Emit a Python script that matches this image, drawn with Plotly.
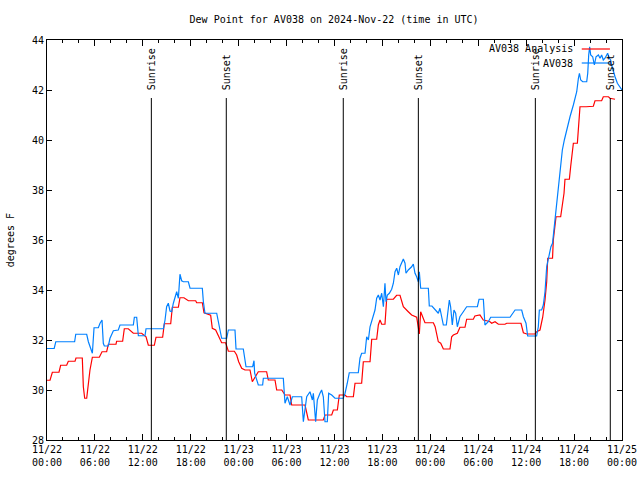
import pandas as pd
import plotly.graph_objects as go

# ---------------- data ----------------
base_time = "2024-11-22 00:00"

# AV038 Analysis (red) : hours since base_time, dew point (F)
analysis_hours = [0, 0.38, 0.67, 1.5, 1.71, 2.46, 2.67, 3.51, 3.63, 4.42, 4.55, 4.72, 4.97, 5.18, 5.38,
                  5.68, 6.55, 6.89, 7.47, 7.68, 8.64, 8.72, 9.47, 9.68, 10.18, 10.81, 11.85, 12.40, 12.69,
                  13.44, 13.65, 14.48, 14.69, 15.49, 15.69, 16.45, 16.65, 17.15, 17.70, 18.62, 18.74, 19.45,
                  19.66, 20.49, 20.70, 21.12, 21.45, 21.87, 22.37, 22.71, 23.46, 23.75, 24.0, 24.38, 24.79,
                  25.42, 25.71, 26.0, 26.46, 27.5, 27.71, 28.55, 28.76, 29.4, 29.8, 30.43, 30.64, 32.31,
                  32.5, 32.72, 34.6, 34.81, 35.65, 35.86, 36.36, 36.6, 37.32, 37.53, 38.36, 38.57, 39.4,
                  39.61, 40.45, 40.66, 41.28, 41.49, 41.7, 41.91, 42.32, 42.53, 43.37, 43.78, 44.2, 44.62,
                  45.24, 45.66, 46.29, 46.5, 46.62, 46.79, 47.12, 47.33, 48.38, 48.6, 49.0, 49.3, 49.63,
                  50.46, 50.67, 50.88, 51.38, 51.71, 52.34, 52.55, 53.38, 53.58, 54.21, 54.63, 55.05,
                  55.47, 55.68, 56.1, 56.52, 57.35, 57.56, 59.35, 59.65, 60.07, 61.11, 61.32, 61.73,
                  62.07, 62.36, 62.57, 62.7, 63.3, 63.4, 63.6, 63.74, 64.32, 64.53, 64.74, 64.86, 65.41,
                  65.57, 65.78, 65.91, 66.41, 66.62, 66.74, 67.5, 68.41, 68.62, 69.45, 69.66, 70.3, 70.5,
                  71.13]
analysis_dewpt = [30.39, 30.39, 30.71, 30.71, 30.99, 30.99, 31.15, 31.15, 31.28, 31.28, 30.13, 29.67, 29.67,
                  30.33, 30.8, 31.31, 31.31, 31.53, 31.53, 31.83, 31.83, 31.95, 31.95, 32.45, 32.45, 32.27,
                  32.27, 32.13, 31.79, 31.79, 32.11, 32.11, 32.65, 32.65, 33.31, 33.31, 33.69, 33.69, 33.57,
                  33.57, 33.49, 33.49, 33.09, 32.99, 32.47, 32.4, 32.16, 31.89, 31.89, 31.55, 31.55, 31.4,
                  31.13, 30.87, 30.8, 30.8, 30.33, 30.47, 30.73, 30.73, 30.4, 30.4, 30.0, 30.0, 29.8, 29.8,
                  29.4, 29.4, 29.07, 28.8, 28.8, 29.0, 29.0, 29.2, 29.2, 29.8, 29.8, 29.73, 29.73, 30.27,
                  30.27, 31.13, 31.13, 32.03, 32.03, 32.6, 32.8, 32.63, 32.63, 33.63, 33.63, 33.79, 33.79,
                  33.33, 33.13, 33.0, 32.91, 32.53, 32.24, 33.13, 32.87, 32.69, 32.69, 32.53, 31.93, 31.87,
                  31.64, 31.64, 32.13, 32.2, 32.27, 32.51, 32.51, 32.83, 32.83, 32.96, 33.0, 32.8, 32.77,
                  32.73, 32.67, 32.73, 32.63, 32.63, 32.67, 32.67, 32.29, 32.24, 32.24, 32.33, 32.4, 32.91,
                  33.6, 34.33, 35.27, 35.27, 36.0, 36.73, 36.93, 36.93, 37.47, 37.87, 38.43, 38.43, 38.93,
                  39.73, 39.87, 39.87, 40.67, 41.33, 41.33, 41.35, 41.57, 41.57, 41.73, 41.73, 41.67, 41.63]

# AV038 observations (blue)
obs_hours = [0.0, 0.9, 1.1, 3.46, 3.6, 4.97, 5.18, 5.38, 5.68, 5.89, 6.43, 6.64, 6.89, 7.05, 7.18, 7.68,
             7.89, 8.31, 8.93, 9.14, 10.81, 10.94, 11.23, 11.44, 12.27, 12.40, 14.57, 14.78, 14.98, 15.19,
             15.40, 15.61, 15.82, 16.24, 16.45, 16.65, 16.86, 17.07, 17.70, 17.91, 19.45, 19.58, 19.78,
             21.25, 21.45, 21.66, 21.87, 22.50, 22.71, 23.54, 23.67, 24.58, 24.92, 25.75, 25.92, 26.0,
             26.46, 27.0, 27.09, 29.59, 29.8, 30.09, 30.43, 30.72, 31.89, 32.1, 32.52, 32.93, 33.23,
             33.35, 33.64, 33.85, 34.18, 34.39, 34.6, 34.81, 35.1, 35.27, 35.65, 36.06, 37.1, 37.32,
             37.6, 37.85, 38.98, 39.19, 39.4, 39.82, 40.03, 40.24, 40.45, 40.86, 41.07, 41.28, 41.49,
             41.7, 41.91, 42.12, 42.32, 42.45, 42.62, 42.87, 43.16, 43.37, 43.58, 43.79, 44.0, 44.2,
             44.41, 44.62, 44.83, 44.95, 45.24, 45.66, 45.87, 46.08, 46.29, 46.5, 46.62, 46.79, 47.75,
             47.87, 48.2, 48.6, 49.0, 49.2, 49.41, 49.63, 50.0, 50.2, 50.38, 50.54, 50.75, 50.96, 51.17,
             51.38, 51.7, 52.13, 52.55, 53.89, 54.1, 54.64, 54.84, 55.26, 55.56, 57.98, 58.4, 58.61,
             59.44, 59.65, 59.98, 60.19, 61.31, 61.52, 61.65, 61.94, 62.15, 62.36, 62.57, 62.78, 62.95,
             63.1, 63.3, 63.53, 63.7, 63.85, 64.03, 64.15, 64.32, 64.53, 64.78, 65.07, 65.49, 65.91,
             66.33, 66.54, 66.67, 66.83, 67.08, 67.58, 67.71, 67.83, 67.95, 68.08, 68.33, 68.54, 68.75,
             69.04, 69.25, 69.45, 69.66, 69.87, 70.08, 70.2, 70.41, 70.58, 70.7, 70.91, 71.13, 71.42,
             71.75, 72.0]
obs_dewpt = [31.66, 31.66, 31.93, 31.93, 32.23, 32.23, 31.93, 31.73, 31.47, 32.49, 32.49, 32.67, 32.8,
             31.87, 31.76, 31.76, 32.07, 32.37, 32.4, 32.6, 32.6, 32.91, 32.91, 32.17, 32.17, 32.45, 32.45,
             32.8, 33.33, 33.47, 33.16, 33.13, 33.47, 33.93, 33.67, 34.63, 34.37, 34.33, 34.33, 34.07,
             34.07, 33.53, 33.07, 33.07, 32.8, 32.4, 32.07, 32.07, 32.4, 32.4, 31.64, 31.64, 30.93, 30.93,
             31.17, 30.67, 30.2, 30.2, 30.47, 30.47, 29.47, 29.73, 29.4, 29.73, 29.73, 28.73, 29.73, 29.93,
             29.6, 29.87, 28.73, 29.6, 29.87, 30.0, 29.73, 28.73, 28.73, 29.87, 29.8, 29.67, 29.67, 29.87,
             30.27, 30.69, 30.69, 31.27, 31.47, 31.47, 32.13, 32.0, 32.53, 32.93, 33.2, 33.67, 33.8, 33.6,
             33.87, 33.33, 34.27, 33.53, 33.8, 33.87, 34.03, 34.27, 34.73, 34.87, 34.6, 34.93, 35.07,
             35.24, 35.07, 34.67, 34.8, 34.93, 35.04, 34.67, 34.53, 34.33, 34.73, 34.07, 34.07, 33.36,
             33.36, 33.2, 33.07, 33.27, 32.93, 32.6, 32.6, 33.2, 33.6, 33.33, 32.6, 33.2, 33.07, 32.53,
             32.93, 33.13, 33.33, 33.33, 33.63, 33.63, 32.6, 32.73, 32.91, 32.91, 33.13, 33.2, 33.2,
             32.93, 32.67, 32.16, 32.16, 32.53, 33.2, 33.2, 33.4, 33.93, 34.93, 35.27, 35.6, 35.73, 35.87,
             36.53, 37.07, 37.5, 38.0, 38.4, 38.93, 39.6, 40.0, 40.4, 40.93, 41.4, 41.93, 42.47, 42.67,
             42.4, 42.33, 42.33, 42.67, 43.4, 43.73, 43.4, 43.33, 43.0, 43.33, 43.4, 43.27, 43.4, 43.2,
             43.27, 43.4, 43.47, 43.27, 43.2, 43.0, 42.73, 42.53, 42.27, 42.13, 42.0]

sun_labels = ["Sunrise", "Sunset", "Sunrise", "Sunset", "Sunrise", "Sunset"]
sun_times = ["2024-11-22 13:04", "2024-11-22 22:27", "2024-11-23 13:06",
             "2024-11-23 22:30", "2024-11-24 13:09", "2024-11-24 22:32"]

tick_times = ["2024-11-22 00:00", "2024-11-22 06:00", "2024-11-22 12:00", "2024-11-22 18:00",
              "2024-11-23 00:00", "2024-11-23 06:00", "2024-11-23 12:00", "2024-11-23 18:00",
              "2024-11-24 00:00", "2024-11-24 06:00", "2024-11-24 12:00", "2024-11-24 18:00",
              "2024-11-25 00:00"]
tick_text = ["11/22<br>00:00", "11/22<br>06:00", "11/22<br>12:00", "11/22<br>18:00",
             "11/23<br>00:00", "11/23<br>06:00", "11/23<br>12:00", "11/23<br>18:00",
             "11/24<br>00:00", "11/24<br>06:00", "11/24<br>12:00", "11/24<br>18:00",
             "11/25<br>00:00"]
y_ticks = [28, 30, 32, 34, 36, 38, 40, 42, 44]

series_names = ["AV038 Analysis", "AV038"]
series_colors = ["#ff0000", "#0080ff"]

title_text = "Dew Point for AV038 on 2024-Nov-22 (time in UTC)"
y_title = "degrees F"

# ---------------- figure ----------------
FONT = "DejaVu Sans Mono"
t0 = pd.Timestamp(base_time)
ana_x = t0 + pd.to_timedelta(analysis_hours, unit="h")
obs_x = t0 + pd.to_timedelta(obs_hours, unit="h")

fig = go.Figure()
fig.add_trace(go.Scatter(x=ana_x, y=analysis_dewpt, mode="lines", name=series_names[0],
                         line=dict(color=series_colors[0], width=1.2), showlegend=False))
fig.add_trace(go.Scatter(x=obs_x, y=obs_dewpt, mode="lines", name=series_names[1],
                         line=dict(color=series_colors[1], width=1.2), showlegend=False))

# sunrise / sunset markers
for lab, t in zip(sun_labels, sun_times):
    fig.add_shape(type="line", xref="x", yref="y", x0=t, x1=t, y0=28, y1=41.68,
                  line=dict(color="black", width=1))
    fig.add_annotation(x=t, y=41.92, xref="x", yref="y", text=lab, textangle=-90,
                       showarrow=False, xanchor="center", yanchor="bottom",
                       font=dict(family=FONT, size=10, color="black"))

# legend (gnuplot style: text on left, sample on right)
leg_y = [0.9775, 0.9425]
for name, col, ly in zip(series_names, series_colors, leg_y):
    fig.add_annotation(x=0.918, y=ly, xref="paper", yref="paper", text=name, showarrow=False,
                       xanchor="right", yanchor="middle",
                       font=dict(family=FONT, size=10, color="black"))
    fig.add_shape(type="line", xref="paper", yref="paper", x0=0.930, x1=0.979, y0=ly, y1=ly,
                  line=dict(color=col, width=1.2))

fig.add_annotation(x=-0.064, y=0.5, xref="paper", yref="paper", text=y_title, textangle=-90,
                   showarrow=False, xanchor="center", yanchor="middle",
                   font=dict(family=FONT, size=10, color="black"))

fig.update_layout(
    width=640, height=480, autosize=False,
    margin=dict(l=47, r=18, t=40, b=40),
    paper_bgcolor="white", plot_bgcolor="white",
    font=dict(family=FONT, size=10, color="black"),
    title=dict(text=title_text, x=0.522, xanchor="center", y=0.96, yanchor="middle",
               font=dict(family=FONT, size=10, color="black")),
    showlegend=False,
)
fig.update_xaxes(
    range=[tick_times[0], tick_times[-1]], tickvals=tick_times, ticktext=tick_text,
    automargin=False,
    showgrid=False, zeroline=False, showline=True, linecolor="black", linewidth=1,
    mirror="ticks", ticks="inside", ticklen=6, tickcolor="black", tickwidth=1,
    minor=dict(dtick=2 * 3600 * 1000, ticks="inside", ticklen=3, tickcolor="black", showgrid=False),
    tickfont=dict(family=FONT, size=10, color="black"),
)
fig.update_yaxes(
    range=[28, 44], tickvals=y_ticks, automargin=False,
    showgrid=False, zeroline=False, showline=True,
    linecolor="black", linewidth=1, mirror="ticks", ticks="inside", ticklen=5,
    tickcolor="black", tickwidth=1, tickfont=dict(family=FONT, size=10, color="black"),
)

fig.write_html(
    "out.html",
    config={"responsive": False, "displayModeBar": False},
    post_script="document.body.style.margin='0';document.body.style.overflow='hidden';",
)
